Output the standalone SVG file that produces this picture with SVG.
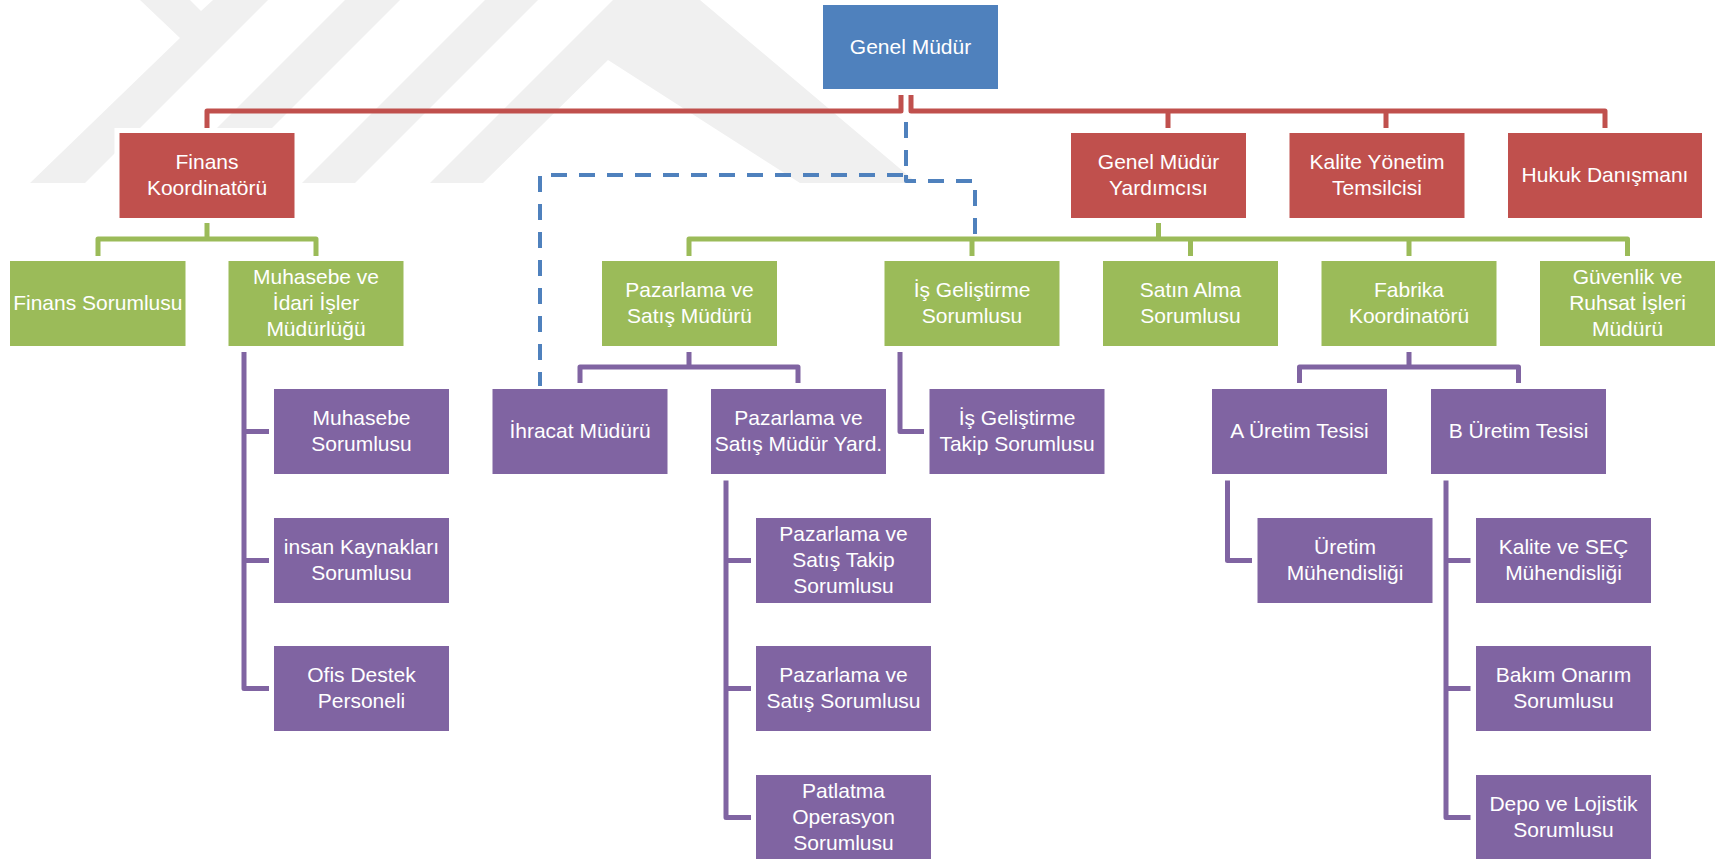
<svg xmlns="http://www.w3.org/2000/svg" width="1722" height="859" viewBox="0 0 1722 859">
<style>
.wm{fill:#F0F0F0}
.b{fill:#4F81BD}
.r{fill:#C0504D}
.g{fill:#9BBB59}
.p{fill:#8064A2}
.halo{fill:#FFFFFF}
text{fill:#FFFFFF;font-family:"Liberation Sans",Arial,sans-serif;font-size:21px;text-anchor:middle}
.cr,.cg,.cp,.cb{fill:none;stroke-width:5;stroke-linejoin:round}
.cr{stroke:#C0504D}
.cg{stroke:#9BBB59}
.cp{stroke:#8064A2}
.cb{stroke:#4F81BD;stroke-width:4;stroke-dasharray:16 12}
</style>
<rect width="1722" height="859" fill="#FFFFFF"/>
<g id="watermark">
<polygon class="wm" points="140,0 190,0 201,11 213,0 268,0 85,183 30,183 180,38"/>
<polygon class="wm" points="345,0 400,0 217,183 162,183"/>
<polygon class="wm" points="485,0 538,0 355,183 302,183"/>
<polygon class="wm" points="430,183 613,0 700,0 917,183 800,183 608,60 483,183"/>
</g>
<g id="connectors">
<path class="cr" d="M901,95 V111 H207 V128"/>
<path class="cr" d="M911,95 V111 H1605 V128"/>
<path class="cr" d="M1168,111 V128 M1386,111 V128"/>
<path class="cg" d="M207,223 V239 M98,256 V239 H316 V256"/>
<path class="cg" d="M1158.5,223 V239 M689,256 V239 H1627.5 V256 M972,239 V256 M1190.5,239 V256 M1409,239 V256"/>
<path class="cp" d="M244,352 V688.5 H269 M244,431.5 H269 M244,560.5 H269"/>
<path class="cp" d="M689,352 V367 M580,383 V367 H798 V383"/>
<path class="cp" d="M900,352 V431.5 H924"/>
<path class="cp" d="M726,480.5 V817.5 H751 M726,560.5 H751 M726,688.5 H751"/>
<path class="cp" d="M1409,352 V367 M1299.5,383 V367 H1518.5 V383"/>
<path class="cp" d="M1227.5,480.5 V560.5 H1252"/>
<path class="cp" d="M1446,480.5 V817.5 H1470.5 M1446,560.5 H1470.5 M1446,688.5 H1470.5"/>
<path class="cb" d="M906,122 V175 H540 V386"/>
<path class="cb" d="M906,175 V181 H975 V238"/>
</g>
<g id="genel-mudur"><rect class="halo" x="818" y="0" width="185" height="95"/><rect class="b" x="823" y="5" width="175" height="84"/><text x="910.5" y="53.5">Genel Müdür</text></g>
<g id="finans-koordinatoru"><rect class="halo" x="114.5" y="128" width="185" height="95"/><rect class="r" x="119.5" y="133" width="175" height="85"/><text x="207" y="169">Finans</text><text x="207" y="195">Koordinatörü</text></g>
<g id="genel-mudur-yardimcisi"><rect class="r" x="1071" y="133" width="175" height="85"/><text x="1158.5" y="169">Genel Müdür</text><text x="1158.5" y="195">Yardımcısı</text></g>
<g id="kalite-yonetim"><rect class="r" x="1289.5" y="133" width="175" height="85"/><text x="1377" y="169">Kalite Yönetim</text><text x="1377" y="195">Temsilcisi</text></g>
<g id="hukuk"><rect class="r" x="1508" y="133" width="194" height="85"/><text x="1605" y="182">Hukuk Danışmanı</text></g>
<g id="finans-sorumlusu"><rect class="g" x="10" y="261" width="175.5" height="85"/><text x="97.8" y="310">Finans Sorumlusu</text></g>
<g id="muhasebe-idari"><rect class="g" x="228.5" y="261" width="175" height="85"/><text x="316" y="284">Muhasebe ve</text><text x="316" y="310">İdari İşler</text><text x="316" y="336">Müdürlüğü</text></g>
<g id="pazarlama-mudur"><rect class="g" x="602" y="261" width="175" height="85"/><text x="689.5" y="297">Pazarlama ve</text><text x="689.5" y="323">Satış Müdürü</text></g>
<g id="is-gelistirme"><rect class="g" x="884.5" y="261" width="175" height="85"/><text x="972" y="297">İş Geliştirme</text><text x="972" y="323">Sorumlusu</text></g>
<g id="satin-alma"><rect class="g" x="1103" y="261" width="175" height="85"/><text x="1190.5" y="297">Satın Alma</text><text x="1190.5" y="323">Sorumlusu</text></g>
<g id="fabrika"><rect class="g" x="1321.5" y="261" width="175" height="85"/><text x="1409" y="297">Fabrika</text><text x="1409" y="323">Koordinatörü</text></g>
<g id="guvenlik"><rect class="g" x="1540" y="261" width="175" height="85"/><text x="1627.5" y="284">Güvenlik ve</text><text x="1627.5" y="310">Ruhsat İşleri</text><text x="1627.5" y="336">Müdürü</text></g>
<g id="muhasebe-sorumlusu"><rect class="p" x="274" y="389" width="175" height="85"/><text x="361.5" y="425">Muhasebe</text><text x="361.5" y="451">Sorumlusu</text></g>
<g id="insan-kaynaklari"><rect class="p" x="274" y="518" width="175" height="85"/><text x="361.5" y="554">insan Kaynakları</text><text x="361.5" y="580">Sorumlusu</text></g>
<g id="ofis-destek"><rect class="p" x="274" y="646" width="175" height="85"/><text x="361.5" y="682">Ofis Destek</text><text x="361.5" y="708">Personeli</text></g>
<g id="ihracat"><rect class="p" x="492.5" y="389" width="175" height="85"/><text x="580" y="438">İhracat Müdürü</text></g>
<g id="pazarlama-yard"><rect class="p" x="711" y="389" width="175" height="85"/><text x="798.5" y="425">Pazarlama ve</text><text x="798.5" y="451">Satış Müdür Yard.</text></g>
<g id="is-gelistirme-takip"><rect class="p" x="929.5" y="389" width="175" height="85"/><text x="1017" y="425">İş Geliştirme</text><text x="1017" y="451">Takip Sorumlusu</text></g>
<g id="a-uretim"><rect class="p" x="1212" y="389" width="175" height="85"/><text x="1299.5" y="438">A Üretim Tesisi</text></g>
<g id="b-uretim"><rect class="p" x="1431" y="389" width="175" height="85"/><text x="1518.5" y="438">B Üretim Tesisi</text></g>
<g id="pazarlama-takip"><rect class="p" x="756" y="518" width="175" height="85"/><text x="843.5" y="541">Pazarlama ve</text><text x="843.5" y="567">Satış Takip</text><text x="843.5" y="593">Sorumlusu</text></g>
<g id="pazarlama-sorumlusu"><rect class="p" x="756" y="646" width="175" height="85"/><text x="843.5" y="682">Pazarlama ve</text><text x="843.5" y="708">Satış Sorumlusu</text></g>
<g id="patlatma"><rect class="p" x="756" y="775" width="175" height="85"/><text x="843.5" y="798">Patlatma</text><text x="843.5" y="824">Operasyon</text><text x="843.5" y="850">Sorumlusu</text></g>
<g id="uretim-muhendisligi"><rect class="p" x="1257.5" y="518" width="175" height="85"/><text x="1345" y="554">Üretim</text><text x="1345" y="580">Mühendisliği</text></g>
<g id="kalite-sec"><rect class="p" x="1476" y="518" width="175" height="85"/><text x="1563.5" y="554">Kalite ve SEÇ</text><text x="1563.5" y="580">Mühendisliği</text></g>
<g id="bakim-onarim"><rect class="p" x="1476" y="646" width="175" height="85"/><text x="1563.5" y="682">Bakım Onarım</text><text x="1563.5" y="708">Sorumlusu</text></g>
<g id="depo-lojistik"><rect class="p" x="1476" y="775" width="175" height="85"/><text x="1563.5" y="811">Depo ve Lojistik</text><text x="1563.5" y="837">Sorumlusu</text></g>
</svg>
